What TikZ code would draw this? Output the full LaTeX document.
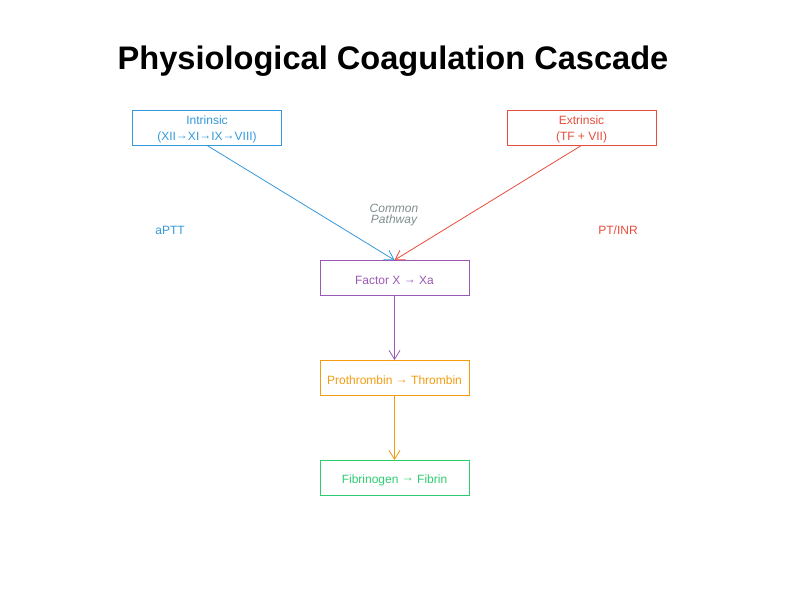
\documentclass[tikz,border=0pt]{standalone}
\usepackage{fontspec}
\setmainfont{Liberation Sans}
\usepackage{tikz}
\usetikzlibrary{positioning,arrows.meta}
\definecolor{intrblue}{HTML}{3498DB}
\definecolor{extrred}{HTML}{E74C3C}
\definecolor{commonpurple}{HTML}{9B59B6}
\definecolor{thrombinorange}{HTML}{F39C12}
\definecolor{fibringreen}{HTML}{2ECC71}
\definecolor{notegray}{HTML}{7F8C8D}
\tikzstyle{title} = [font=\fontsize{32.6}{36}\selectfont\bfseries, text=black]
\tikzstyle{label} = [font=\fontsize{12}{14}\selectfont, inner sep=0pt]
\newcommand{\conv}{\raisebox{1.4pt}{→}}

\begin{document}
\begin{tikzpicture}[
  x=1pt, y=-1pt,
  stage/.style 2 args={
    rectangle,
    draw=#1,
    text=#1,
    line width=0.8pt,
    minimum width=149pt,
    minimum height=35pt,
    align=center,
    inner sep=0pt,
    execute at begin node={\rule{0pt}{#2}},
    font=\fontsize{12}{16}\selectfont},
  flow/.style={->, draw=#1, line width=0.8pt, >={Straight Barb[length=9pt,width=11pt]}}]
  \useasboundingbox (0,0) rectangle (800,600);
  % draw title
  \node[title] (ttl) at (393,61) {Physiological Coagulation Cascade};
  % draw pathway entry nodes
  \node[stage={intrblue}{29pt}] (intr) at (207,127.5) {Intrinsic\\(XII\conv XI\conv IX\conv VIII)};
  \node[stage={extrred}{29pt}] (extr) at (581.5,127.5) {Extrinsic\\(TF + VII)};
  % draw common pathway nodes
  \foreach \name/\col/\txt [count=\step from 0] in {factx/commonpurple/{Factor X \conv\ Xa},
      proth/thrombinorange/{Prothrombin \conv\ Thrombin},
      fibr/fibringreen/{Fibrinogen \conv\ Fibrin}} {
    \node[stage={\col}{13pt}] (\name) at (394.5, 278+100*\step) {\txt};
  }
  % draw test labels
  \node[label, text=intrblue] (aptt) at (170,230) {aPTT};
  \node[label, text=extrred] (ptinr) at (618,230) {PT/INR};
  \node[label, text=notegray, align=center, font=\fontsize{12}{11}\selectfont\itshape] (cmn) at (394,215) {Common\\Pathway};
  % draw cascade links
  \draw[flow=intrblue] (intr.south) -- (factx.north);
  \draw[flow=extrred] (extr.south) -- (factx.north);
  \draw[flow=commonpurple] (factx.south) -- (proth.north);
  \draw[flow=thrombinorange] (proth.south) -- (fibr.north);
\end{tikzpicture}
\end{document}
